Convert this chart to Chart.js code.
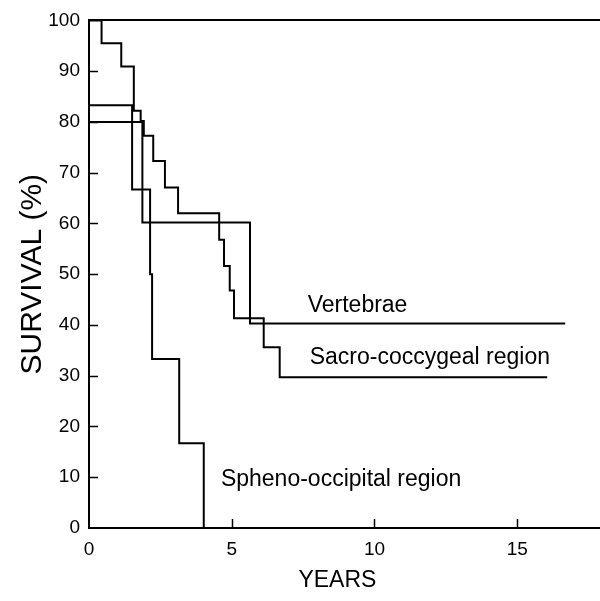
<!DOCTYPE html>
<html><head><meta charset="utf-8">
<script src="https://cdn.jsdelivr.net/npm/chart.js@4.4.1/dist/chart.umd.min.js"></script>
<style>html,body{margin:0;padding:0;background:#fff}#wrap{width:600px;height:601px;position:relative}</style>
</head><body><div id="wrap"><canvas id="c"></canvas></div>
<script>
// ---- data ----
const vertebraeYears    = [0, 0, 1.87, 5.64, 16.68];
const vertebraeSurvival = [100, 80, 60.2, 40.3, 40.3];

const sacroYears    = [0, 0.44, 1.13, 1.57, 1.81, 1.92, 2.25, 2.66, 3.12, 4.56, 4.73, 4.93, 5.08, 6.12, 6.68, 16.05];
const sacroSurvival = [100, 95.5, 90.9, 82.2, 80.2, 77.3, 72.3, 67.1, 62.0, 56.8, 51.6, 46.8, 41.3, 35.6, 29.7, 29.7];

const sphenoYears    = [0, 0, 1.51, 2.14, 2.21, 3.16, 4.02];
const sphenoSurvival = [100, 83.3, 66.7, 50.0, 33.3, 16.7, 0];

const xTickValues = [0, 5, 10, 15];
const yTickValues = [0, 10, 20, 30, 40, 50, 60, 70, 80, 90, 100];

const curveNames = ['Vertebrae', 'Sacro-coccygeal region', 'Spheno-occipital region'];
// label anchor (years, survival %) for each curve name
const labelYears    = [7.66, 7.73, 4.62];
const labelSurvival = [42.6, 32.4, 8.2];

const xTitle = 'YEARS';
const xTitleYears = 8.7;   // centre of the x-axis title, in years
const yTitle = 'SURVIVAL (%)';

const FONT = '"Liberation Sans", Arial, Helvetica, sans-serif';

function pts(xs, ys) { return xs.map((x, i) => ({x: x, y: ys[i]})); }

const decor = {
  id: 'decor',
  afterDraw(chart) {
    const {ctx, chartArea, scales: {x, y}} = chart;
    ctx.save();
    ctx.strokeStyle = '#000';
    ctx.lineWidth = 1.5;
    y.ticks.forEach(t => {
      if (t.value === 0 || t.value === 100) return;
      const py = Math.round(y.getPixelForValue(t.value)) + 0.5;
      ctx.beginPath(); ctx.moveTo(chartArea.left, py); ctx.lineTo(chartArea.left + 9, py); ctx.stroke();
    });
    x.ticks.forEach(t => {
      if (t.value === 0) return;
      const px = Math.round(x.getPixelForValue(t.value)) + 0.5;
      ctx.beginPath(); ctx.moveTo(px, chartArea.bottom); ctx.lineTo(px, chartArea.bottom - 9); ctx.stroke();
    });
    ctx.fillStyle = '#000';
    ctx.font = '23px ' + FONT;
    ctx.textAlign = 'left';
    ctx.textBaseline = 'alphabetic';
    curveNames.forEach((name, i) => {
      ctx.fillText(name, x.getPixelForValue(labelYears[i]), y.getPixelForValue(labelSurvival[i]));
    });
    // x-axis title
    ctx.font = '23px ' + FONT;
    ctx.textAlign = 'center';
    ctx.textBaseline = 'middle';
    ctx.fillText(xTitle, x.getPixelForValue(xTitleYears), chartArea.bottom + 53);
    ctx.restore();
  }
};

const lineStyle = {borderColor: '#000', borderWidth: 2, pointRadius: 0, fill: false, stepped: true, tension: 0};

new Chart(document.getElementById('c'), {
  type: 'line',
  data: {
    datasets: [
      Object.assign({label: curveNames[0], data: pts(vertebraeYears, vertebraeSurvival)}, lineStyle),
      Object.assign({label: curveNames[1], data: pts(sacroYears, sacroSurvival)}, lineStyle),
      Object.assign({label: curveNames[2], data: pts(sphenoYears, sphenoSurvival)}, lineStyle)
    ]
  },
  options: {
    responsive: true,
    maintainAspectRatio: false,
    animation: false,
    devicePixelRatio: 1,
    layout: {padding: {top: 18, right: 0, left: 0, bottom: 0}},
    plugins: {legend: {display: false}, tooltip: {enabled: false}},
    scales: {
      x: {
        type: 'linear', min: 0, max: 17.9,
        afterBuildTicks: s => { s.ticks = xTickValues.map(v => ({value: v})); },
        afterFit: s => { s.height = 73; },
        grid: {display: false, drawTicks: false},
        border: {display: true, color: '#000', width: 2},
        ticks: {color: '#000', font: {size: 19, family: FONT}, padding: 10, maxRotation: 0, autoSkip: false},
        title: {display: false}
      },
      y: {
        type: 'linear', min: 0, max: 100,
        afterBuildTicks: s => { s.ticks = yTickValues.map(v => ({value: v})); },
        afterFit: s => { s.width = 89; },
        grid: {display: true, drawTicks: false, lineWidth: 2,
               color: c => (c.tick && c.tick.value === 100) ? '#000' : 'rgba(0,0,0,0)'},
        border: {display: true, color: '#000', width: 2},
        ticks: {color: '#000', font: {size: 19, family: FONT}, padding: 9, autoSkip: false},
        title: {display: true, text: yTitle, color: '#000', font: {size: 30, family: FONT}, padding: {top: 15, bottom: 0}}
      }
    }
  },
  plugins: [decor]
});
</script>
</body></html>
